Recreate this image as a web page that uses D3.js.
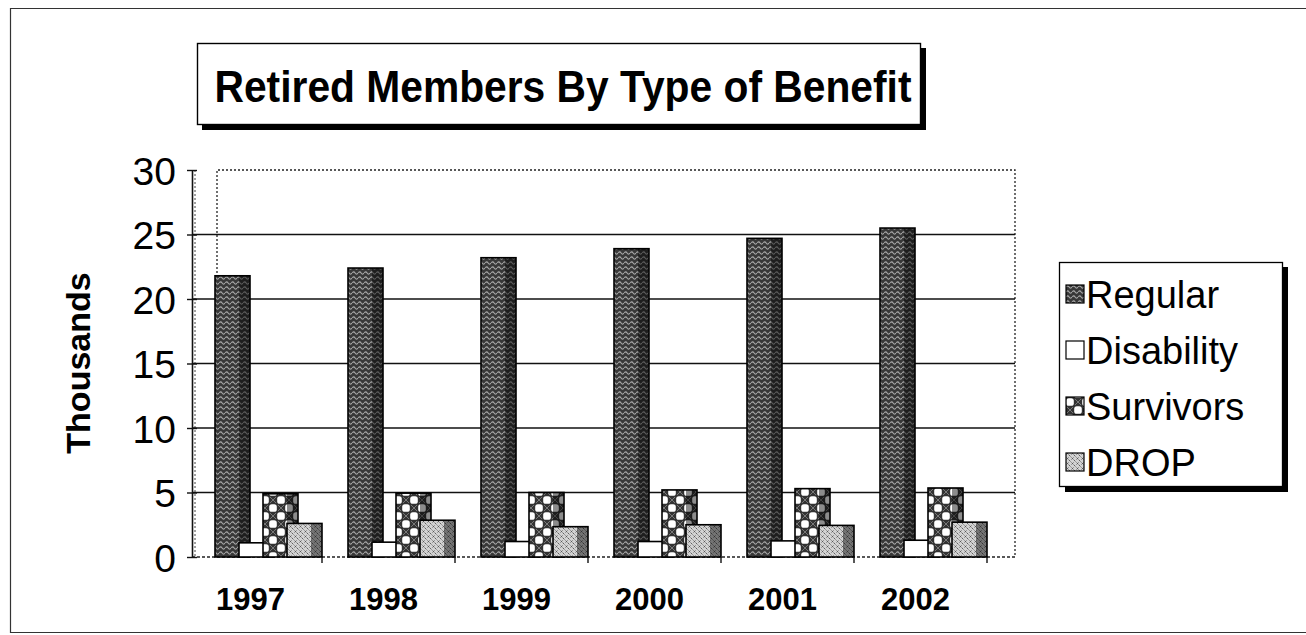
<!DOCTYPE html>
<html>
<head>
<meta charset="utf-8">
<script src="https://cdn.jsdelivr.net/npm/d3@7/dist/d3.min.js"></script>
<style>
  html, body { margin: 0; padding: 0; background: #fff; }
  svg { display: block; font-family: "Liberation Sans", Arial, sans-serif; }
</style>
</head>
<body>
<svg id="chart" width="1306" height="635"></svg>
<script>
// Retired members (thousands) by type of benefit, 1997-2002
const years = ["1997", "1998", "1999", "2000", "2001", "2002"];
const seriesNames = ["Regular", "Disability", "Survivors", "DROP"];
const regular    = [21.8, 22.4, 23.2, 23.9, 24.7, 25.5];
const disability = [1.1, 1.15, 1.2, 1.2, 1.25, 1.3];
const survivors  = [4.9, 4.95, 5.0, 5.2, 5.3, 5.35];
const drop       = [2.6, 2.85, 2.35, 2.5, 2.45, 2.7];
const yTicks = [0, 5, 10, 15, 20, 25, 30];

const values = { Regular: regular, Disability: disability, Survivors: survivors, DROP: drop };

const svg = d3.select("#chart");
const defs = svg.append("defs");

// --- fill patterns ---------------------------------------------------------
const pReg = defs.append("pattern").attr("id", "pReg")
  .attr("patternUnits", "userSpaceOnUse").attr("width", 6).attr("height", 5);
pReg.append("rect").attr("width", 6).attr("height", 5).attr("fill", "#383838");
pReg.append("path").attr("d", "M0.3,3 q1.4,-2.2 2.8,0 t2.8,0")
  .attr("fill", "none").attr("stroke", "#a9a9a9").attr("stroke-width", 1.1);

const pSurv = defs.append("pattern").attr("id", "pSurv")
  .attr("patternUnits", "userSpaceOnUse").attr("width", 16).attr("height", 16);
pSurv.append("rect").attr("width", 16).attr("height", 16).attr("fill", "#333");
[[0, 0], [8, 8]].forEach(([cx, cy]) => {
  pSurv.append("path")
    .attr("d", `M${cx + 1},${cy + 1}l6,6M${cx + 7},${cy + 1}l-6,6`)
    .attr("stroke", "#777").attr("stroke-width", 1);
});
[[12, 4], [4, 12]].forEach(([cx, cy]) => {
  pSurv.append("rect").attr("x", cx - 3.8).attr("y", cy - 3.8)
    .attr("width", 7.6).attr("height", 7.6).attr("rx", 2.6).attr("fill", "#fff");
});

const pDrop = defs.append("pattern").attr("id", "pDrop")
  .attr("patternUnits", "userSpaceOnUse").attr("width", 5).attr("height", 5);
pDrop.append("rect").attr("width", 5).attr("height", 5).attr("fill", "#d2d2d2");
pDrop.append("path").attr("d", "M0.5,0.5l2,2M2.5,0.5l-2,2M3,3l1.5,1.5")
  .attr("stroke", "#555").attr("stroke-width", 0.9);

const fills = { Regular: "url(#pReg)", Disability: "#fff", Survivors: "url(#pSurv)", DROP: "url(#pDrop)" };

// --- outer frame -----------------------------------------------------------
svg.append("path").attr("d", "M1306,8.5H10.5V632.5H1306")
  .attr("fill", "none").attr("stroke", "#333").attr("stroke-width", 1.2);

// --- scales ----------------------------------------------------------------
const depth = 25;          // oblique depth of the plot box
const x0 = d3.scaleBand().domain(years).range([189, 987]).padding(0);
const y = d3.scaleLinear().domain([0, 30]).range([557, 170]);
const barStep = 24, barSide = 11;
const x1 = d3.scaleBand().domain(seriesNames)
  .range([26, 26 + barStep * seriesNames.length]).padding(0);

const plotLeft = 192, plotRight = 1015;

// back wall outline (dotted)
const g = svg.append("g");
g.append("path")
  .attr("d", `M${plotLeft + depth},${y(0)}V${y(30)}H${plotRight}V${y(0)}`)
  .attr("fill", "none").attr("stroke", "#222").attr("stroke-width", 1.3)
  .attr("stroke-dasharray", "2,2");
g.append("line").attr("x1", plotLeft + 3).attr("x2", plotLeft + 3)
  .attr("y1", y(30)).attr("y2", y(0))
  .attr("stroke", "#444").attr("stroke-width", 1).attr("stroke-dasharray", "2,2");

// gridlines
g.selectAll("line.grid").data(yTicks.filter(t => t > 0 && t < 30)).join("line")
  .attr("class", "grid")
  .attr("x1", plotLeft).attr("x2", plotRight)
  .attr("y1", d => y(d)).attr("y2", d => y(d))
  .attr("stroke", "#111").attr("stroke-width", 1.6);

// floor line
g.append("line").attr("x1", plotLeft).attr("x2", plotRight)
  .attr("y1", y(0)).attr("y2", y(0))
  .attr("stroke", "#222").attr("stroke-width", 1.4).attr("stroke-dasharray", "3,2");

// --- bars ------------------------------------------------------------------
years.forEach((yr, i) => {
  const grp = svg.append("g").attr("transform", `translate(${x0(yr)},0)`);
  seriesNames.forEach(s => {
    const v = values[s][i];
    const bx = x1(s);
    const fw = x1.bandwidth();
    const top = y(v), h = y(0) - y(v);
    grp.append("rect").attr("x", bx).attr("y", top)
      .attr("width", fw + barSide).attr("height", h)
      .attr("fill", fills[s]);
    grp.append("rect").attr("x", bx + fw).attr("y", top)
      .attr("width", barSide).attr("height", h)
      .attr("fill", s === "Disability" ? "#888" : "rgba(0,0,0,0.45)");
    grp.append("rect").attr("x", bx).attr("y", top)
      .attr("width", fw + barSide).attr("height", h)
      .attr("fill", "none").attr("stroke", "#000").attr("stroke-width", 1.6);
  });
});

// --- axes ------------------------------------------------------------------
const yAxis = d3.axisLeft(y).tickValues(yTicks).tickSize(0).tickPadding(16);
const ya = svg.append("g").attr("transform", `translate(${plotLeft},0)`).call(yAxis);
ya.select(".domain").attr("stroke", "#111").attr("stroke-width", 1.6);
ya.selectAll(".tick text").attr("font-size", 39).attr("fill", "#000")
  .attr("font-family", "Liberation Sans, Arial, sans-serif").attr("dy", "0.36em");
ya.selectAll(".tick").append("line").attr("x1", -5).attr("x2", 5)
  .attr("stroke", "#111").attr("stroke-width", 1.4);

const xAxis = d3.axisBottom(x0).tickSize(0).tickPadding(31);
const xa = svg.append("g").attr("transform", `translate(0,${y(0)})`).call(xAxis);
xa.select(".domain").remove();
xa.selectAll(".tick text").attr("font-size", 31).attr("font-weight", "bold")
  .attr("dx", -5)
  .attr("fill", "#000").attr("font-family", "Liberation Sans, Arial, sans-serif");
// category separator ticks
xa.selectAll("line.sep").data(years).join("line").attr("class", "sep")
  .attr("x1", d => x0(d) + x0.bandwidth()).attr("x2", d => x0(d) + x0.bandwidth())
  .attr("y1", 0).attr("y2", 6).attr("stroke", "#111").attr("stroke-width", 1.4);

// y-axis title
svg.append("text").attr("transform", "translate(90,363) rotate(-90)")
  .attr("text-anchor", "middle").attr("font-size", 34).attr("font-weight", "bold")
  .text("Thousands");

// --- title box -------------------------------------------------------------
const title = svg.append("g");
title.append("rect").attr("x", 202).attr("y", 48).attr("width", 724).attr("height", 82).attr("fill", "#000");
title.append("rect").attr("x", 197.5).attr("y", 43.5).attr("width", 723).attr("height", 81)
  .attr("fill", "#fff").attr("stroke", "#000").attr("stroke-width", 1.4);
title.append("text").attr("x", 563).attr("y", 102).attr("text-anchor", "middle")
  .attr("font-size", 44).attr("font-weight", "bold")
  .attr("textLength", 697).attr("lengthAdjust", "spacingAndGlyphs")
  .text("Retired Members By Type of Benefit");

// --- legend ----------------------------------------------------------------
const lg = svg.append("g");
lg.append("rect").attr("x", 1065).attr("y", 267).attr("width", 223).attr("height", 225).attr("fill", "#000");
lg.append("rect").attr("x", 1059.5).attr("y", 262.5).attr("width", 223).attr("height", 224)
  .attr("fill", "#fff").attr("stroke", "#000").attr("stroke-width", 1.3);
const legendY = d3.scalePoint().domain(seriesNames).range([294, 462]);
const items = lg.selectAll("g.item").data(seriesNames).join("g").attr("class", "item")
  .attr("transform", d => `translate(1066,${legendY(d)})`);
items.append("rect").attr("x", 0).attr("y", -9).attr("width", 18).attr("height", 18)
  .attr("fill", d => fills[d]).attr("stroke", "#000").attr("stroke-width", 1.2);
items.append("text").attr("x", 20).attr("y", 0).attr("dy", "0.36em")
  .attr("font-size", 38).text(d => d);
</script>
</body>
</html>
